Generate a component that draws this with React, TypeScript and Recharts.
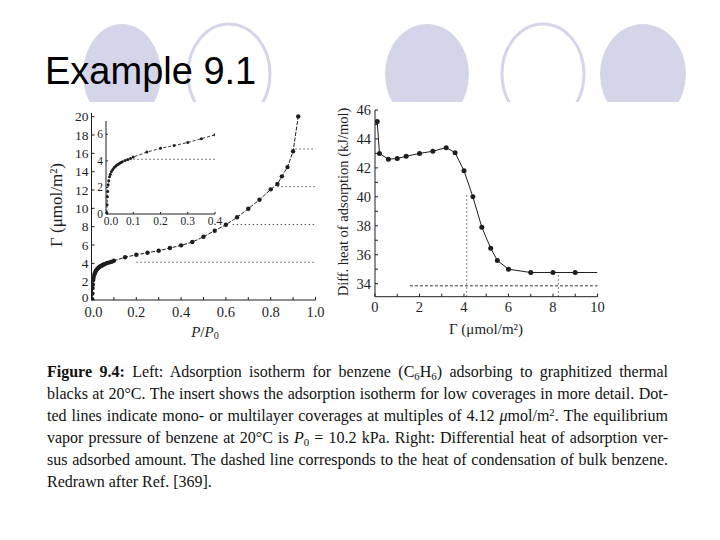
import React from "react";
import { ScatterChart, Scatter, XAxis, YAxis, ReferenceLine } from "recharts";

// left panel: isotherm, P/P0 vs coverage (µmol/m²)
const isoP = [
  0.003, 0.004, 0.005, 0.006, 0.008, 0.01, 0.013, 0.016, 0.02, 0.025, 0.03, 0.035,
  0.04, 0.045, 0.05, 0.055, 0.06, 0.07, 0.08, 0.09, 0.1, 0.15, 0.2, 0.25, 0.3, 0.35,
  0.4, 0.45, 0.5, 0.55, 0.6, 0.65, 0.7, 0.75, 0.8, 0.83, 0.85, 0.875, 0.9, 0.923,
];
const isoG = [
  0.1, 0.7, 1.3, 1.7, 2.2, 2.5, 2.8, 3.0, 3.2, 3.35, 3.5, 3.6,
  3.68, 3.75, 3.82, 3.88, 3.94, 4.03, 4.1, 4.18, 4.29, 4.66, 4.94, 5.16, 5.38, 5.67,
  5.96, 6.32, 6.9, 7.56, 8.21, 9.02, 9.96, 10.94, 12.07, 12.65, 13.49, 14.5, 16.22, 20.03,
];
// mono / multilayer levels (multiples of 4.12) and where the dotted line starts
const layerLevels = [4.12, 8.24, 12.36, 16.48];
const layerFrom = [0.2, 0.63, 0.83, 0.91];
const insetMaxP = 0.4;
const insetLayerFrom = 0.1;

const leftXTicks = [0, 0.1, 0.2, 0.3, 0.4, 0.5, 0.6, 0.7, 0.8, 0.9, 1.0];
const leftYTicks = [0, 2, 4, 6, 8, 10, 12, 14, 16, 18, 20];
const insetXTicks = [0, 0.1, 0.2, 0.3, 0.4];
const insetYTicks = [0, 2, 4, 6];

// right panel: differential heat of adsorption
const covG = [0.1, 0.2, 0.6, 1.0, 1.4, 2.0, 2.6, 3.2, 3.6, 4.0, 4.4, 4.8, 5.2, 5.5, 6.0, 7.0, 8.0, 9.0];
const heatQ = [45.2, 43.0, 42.6, 42.65, 42.8, 43.0, 43.15, 43.4, 43.05, 41.8, 40.0, 37.9, 36.45, 35.6, 35.0, 34.77, 34.77, 34.77];
const tailG = [9.0, 10.0];
const tailQ = [34.77, 34.77];
const condensQ = 33.85;
const condensFrom = 1.57;
const monoG = [4.12, 8.24];
const monoTop = [40.2, 34.77];

const rightXTicks = [0, 1, 2, 3, 4, 5, 6, 7, 8, 9, 10];
const rightYTicks = [34, 35, 36, 37, 38, 39, 40, 41, 42, 43, 44, 45, 46];

const INK = "#1e1e1e";
const serif = "'Liberation Serif', 'DejaVu Serif', serif";
const LAV = "#d5d5ea";

const isoPts = isoP.map((x, i) => ({ x, y: isoG[i] }));
const insetPts = isoPts.filter((p) => p.x <= insetMaxP);
const heatPts = covG.map((x, i) => ({ x, y: heatQ[i] }));
const tailPts = tailG.map((x, i) => ({ x, y: tailQ[i] }));

type Side = "left" | "right" | "top" | "bottom";
const makeTick =
  (side: Side, len: number, label?: (v: number) => string | null, size = 12, gap = 4, shift0 = 0) =>
  (p: any) => {
    const { x, y, payload } = p;
    const v = payload.value as number;
    const dx = side === "left" ? len : side === "right" ? -len : 0;
    const dy = side === "bottom" ? -len : side === "top" ? len : 0;
    const txt = label ? label(v) : null;
    const s0 = v === 0 ? shift0 : 0;
    return (
      <g>
        <line x1={x} y1={y} x2={x + dx} y2={y + dy} stroke={INK} strokeWidth={1} />
        {txt !== null && side === "left" && (
          <text x={x - gap} y={y + s0} textAnchor="end" dominantBaseline="central" fontSize={size} fontFamily={serif} fill={INK}>
            {txt}
          </text>
        )}
        {txt !== null && side === "bottom" && (
          <text x={x + s0} y={y + gap} textAnchor="middle" dominantBaseline="hanging" fontSize={size} fontFamily={serif} fill={INK}>
            {txt}
          </text>
        )}
      </g>
    );
  };

const dot = (r: number) => (p: any) => <circle cx={p.cx} cy={p.cy} r={r} fill={INK} />;
const noDot = () => <g />;

const evenTenth = (v: number) => (Math.round(v * 10) % 2 === 0 ? v.toFixed(1) : null);
const evenInt = (v: number) => (Math.round(v) % 2 === 0 ? String(v) : null);

function LeftChart() {
  return (
    <ScatterChart width={310} height={240} margin={{ top: 13, right: 14.5, bottom: 10, left: 0 }}>
      <XAxis xAxisId="b" type="number" dataKey="x" domain={[0, 1]} ticks={leftXTicks} interval={0} allowDataOverflow
        height={30} tickSize={0} tickMargin={0} tickLine={false} axisLine={{ stroke: INK }}
        tick={makeTick("bottom", 3, evenTenth, 14.5, 7, 2)} />
      <XAxis xAxisId="t" orientation="top" type="number" dataKey="x" domain={[0, 1]} ticks={leftXTicks} interval={0}
        allowDataOverflow height={0} tickSize={0} tickMargin={0} tickLine={false} axisLine={{ stroke: INK }}
        tick={makeTick("top", 3)} />
      <YAxis yAxisId="l" type="number" dataKey="y" domain={[0, 20.4]} ticks={leftYTicks} interval={0} allowDataOverflow
        width={71.5} tickSize={0} tickMargin={0} tickLine={false} axisLine={{ stroke: INK }}
        tick={makeTick("left", 3, (v) => String(v), 13.5, 3, -3)} />
      <YAxis yAxisId="r" orientation="right" type="number" dataKey="y" domain={[0, 20.4]} ticks={leftYTicks} interval={0}
        allowDataOverflow width={0} tickSize={0} tickMargin={0} tickLine={false} axisLine={{ stroke: INK }}
        tick={makeTick("right", 3)} />
      {layerLevels.map((v, i) => (
        <ReferenceLine key={v} xAxisId="b" yAxisId="l" segment={[{ x: layerFrom[i], y: v }, { x: 1, y: v }]}
          stroke="#555" strokeDasharray="1.5 2.5" />
      ))}
      <Scatter xAxisId="b" yAxisId="l" data={isoPts} isAnimationActive={false} shape={dot(2.2)}
        line={{ stroke: INK, strokeWidth: 1, strokeDasharray: "4 1.5" }} />
    </ScatterChart>
  );
}

function InsetChart() {
  return (
    <ScatterChart width={135} height={112} margin={{ top: 2, right: 12, bottom: 0, left: 0 }}>
      <XAxis xAxisId="b" type="number" dataKey="x" domain={[0, 0.4]} ticks={insetXTicks} interval={0} allowDataOverflow
        height={17} tickSize={0} tickMargin={0} tickLine={false} axisLine={{ stroke: INK }}
        tick={makeTick("bottom", 2, (v) => v.toFixed(1), 11.5, 3, 5)} />
      <XAxis xAxisId="t" orientation="top" type="number" dataKey="x" domain={[0, 0.4]} ticks={insetXTicks} interval={0}
        allowDataOverflow height={0} tickSize={0} tickMargin={0} tickLine={false} axisLine={{ stroke: INK }}
        tick={makeTick("top", 2)} />
      <YAxis yAxisId="l" type="number" dataKey="y" domain={[0, 7]} ticks={insetYTicks} interval={0} allowDataOverflow
        width={14} tickSize={0} tickMargin={0} tickLine={false} axisLine={{ stroke: INK }}
        tick={makeTick("left", 2, (v) => String(v), 11.5, 3)} />
      <YAxis yAxisId="r" orientation="right" type="number" dataKey="y" domain={[0, 7]} ticks={insetYTicks} interval={0}
        allowDataOverflow width={0} tickSize={0} tickMargin={0} tickLine={false}
        axisLine={{ stroke: "#777", strokeDasharray: "1 2" }} tick={makeTick("right", 2)} />
      <ReferenceLine xAxisId="b" yAxisId="l" segment={[{ x: insetLayerFrom, y: layerLevels[0] }, { x: 0.4, y: layerLevels[0] }]}
        stroke="#555" strokeDasharray="1.5 2.5" />
      <Scatter xAxisId="b" yAxisId="l" data={insetPts} isAnimationActive={false} shape={dot(1.5)}
        line={{ stroke: INK, strokeWidth: 0.9, strokeDasharray: "3 2" }} />
    </ScatterChart>
  );
}

function RightChart() {
  return (
    <ScatterChart width={277.5} height={236.7} margin={{ top: 10, right: 10, bottom: 10, left: 0 }}>
      <XAxis xAxisId="b" type="number" dataKey="x" domain={[0, 10]} ticks={rightXTicks} interval={0} allowDataOverflow
        height={30} tickSize={0} tickMargin={0} tickLine={false} axisLine={{ stroke: INK }}
        tick={makeTick("bottom", 3, evenInt, 14.5, 5)} />
      <XAxis xAxisId="t" orientation="top" type="number" dataKey="x" domain={[0, 10]} ticks={rightXTicks} interval={0}
        allowDataOverflow height={0} tickSize={0} tickMargin={0} tickLine={false} axisLine={{ stroke: "#555" }}
        tick={makeTick("top", 3)} />
      <YAxis yAxisId="l" type="number" dataKey="y" domain={[33.1, 46]} ticks={rightYTicks} interval={0} allowDataOverflow
        width={45} tickSize={0} tickMargin={0} tickLine={false} axisLine={{ stroke: INK }}
        tick={makeTick("left", 3, evenInt, 14.5, 4)} />
      <YAxis yAxisId="r" orientation="right" type="number" dataKey="y" domain={[33.1, 46]} ticks={rightYTicks} interval={0}
        allowDataOverflow width={0} tickSize={0} tickMargin={0} tickLine={false} axisLine={{ stroke: INK }}
        tick={makeTick("right", 3)} />
      <ReferenceLine xAxisId="b" yAxisId="l" segment={[{ x: condensFrom, y: condensQ }, { x: 10, y: condensQ }]}
        stroke="#333" strokeDasharray="3 2" />
      {monoG.map((g, i) => (
        <ReferenceLine key={g} xAxisId="b" yAxisId="l" segment={[{ x: g, y: 33.1 }, { x: g, y: monoTop[i] }]}
          stroke="#555" strokeDasharray="1.5 2.5" />
      ))}
      <Scatter xAxisId="b" yAxisId="l" data={tailPts} isAnimationActive={false} shape={noDot}
        line={{ stroke: INK, strokeWidth: 1 }} />
      <Scatter xAxisId="b" yAxisId="l" data={heatPts} isAnimationActive={false} shape={dot(2.5)}
        line={{ stroke: INK, strokeWidth: 1 }} />
    </ScatterChart>
  );
}

const abs = (left: number, top: number): React.CSSProperties => ({ position: "absolute", left, top });
const rotated = (cx: number, cy: number, size: number): React.CSSProperties => ({
  position: "absolute", left: cx, top: cy, transform: "translate(-50%, -50%) rotate(-90deg)",
  whiteSpace: "nowrap", fontFamily: serif, fontSize: size, color: INK, lineHeight: 1,
});
const centered = (cx: number, cy: number, size: number): React.CSSProperties => ({
  position: "absolute", left: cx, top: cy, transform: "translate(-50%, -50%)",
  whiteSpace: "nowrap", fontFamily: serif, fontSize: size, color: INK, lineHeight: 1,
});
const sub: React.CSSProperties = { fontSize: "0.68em", lineHeight: 0, verticalAlign: "-0.25em" };
const sup: React.CSSProperties = { fontSize: "0.68em", lineHeight: 0, verticalAlign: "0.45em" };
const justified: React.CSSProperties = { textAlign: "justify", textAlignLast: "justify", whiteSpace: "nowrap" };

export default function App() {
  return (
    <div style={{ position: "absolute", left: 0, top: 0, width: 720, height: 540, background: "#fff", overflow: "hidden" }}>
      <svg width={720} height={540} style={{ position: "absolute", left: 0, top: 0 }}>
        <defs>
          <clipPath id="band">
            <rect x={0} y={0} width={720} height={102} />
          </clipPath>
        </defs>
        <g clipPath="url(#band)">
          <ellipse cx={122} cy={74} rx={39} ry={50} fill={LAV} />
          <ellipse cx={229} cy={74} rx={41} ry={50} fill="none" stroke={LAV} strokeWidth={3} />
          <ellipse cx={427} cy={74} rx={42} ry={50} fill={LAV} />
          <ellipse cx={543} cy={74} rx={41} ry={50} fill="none" stroke={LAV} strokeWidth={3} />
          <ellipse cx={643} cy={74} rx={43} ry={50} fill={LAV} />
        </g>
        <text x={45} y={84} fontFamily="'Liberation Sans', Arial, sans-serif" fontSize={38} fill="#000">
          Example 9.1
        </text>
      </svg>

      <div style={abs(20, 100)}>
        <LeftChart />
      </div>
      <div style={abs(92, 119)}>
        <InsetChart />
      </div>
      <div style={abs(330, 100)}>
        <RightChart />
      </div>

      <div style={rotated(56, 205, 17)}>Γ (μmol/m²)</div>
      <div style={centered(205, 332, 15)}>
        <i>P</i>/<i>P</i><span style={sub}>0</span>
      </div>
      <div style={rotated(343, 202, 14.5)}>Diff. heat of adsorption (kJ/mol)</div>
      <div style={centered(486, 329, 15)}>Γ (μmol/m²)</div>

      <div style={{ position: "absolute", left: 47, top: 361, width: 621, fontFamily: serif, fontSize: 16, lineHeight: "22px", color: "#111" }}>
        <div style={justified}>
          <b>Figure 9.4:</b> Left: Adsorption isotherm for benzene (C<span style={sub}>6</span>H<span style={sub}>6</span>) adsorbing to graphitized thermal
        </div>
        <div style={justified}>
          blacks at 20°C. The insert shows the adsorption isotherm for low coverages in more detail. Dot-
        </div>
        <div style={justified}>
          ted lines indicate mono- or multilayer coverages at multiples of 4.12 <i>μ</i>mol/m<span style={sup}>2</span>. The equilibrium
        </div>
        <div style={justified}>
          vapor pressure of benzene at 20°C is <i>P</i><span style={sub}>0</span> = 10.2 kPa. Right: Differential heat of adsorption ver-
        </div>
        <div style={justified}>
          sus adsorbed amount. The dashed line corresponds to the heat of condensation of bulk benzene.
        </div>
        <div>Redrawn after Ref. [369].</div>
      </div>
    </div>
  );
}
